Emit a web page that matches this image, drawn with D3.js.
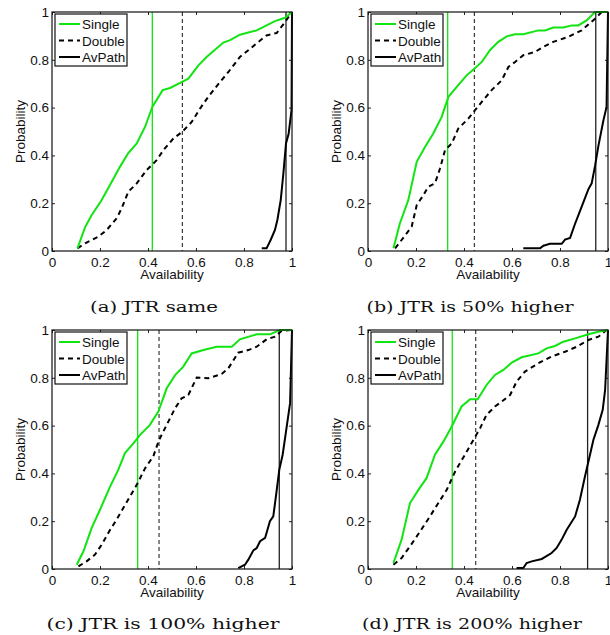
<!DOCTYPE html>
<html lang="en">
<head>
<meta charset="utf-8">
<script src="https://d3js.org/d3.v7.min.js"></script>
<style type="text/css">
body { margin: 0; background: #fff; }
svg text { font-family: "Liberation Sans", Arial, sans-serif; }
svg text.caption { font-family: "DejaVu Serif", "Liberation Serif", serif; }
</style>
</head>
<body>
<script type="text/javascript">

// ---- data: [availability, probability] ----
const ticks = [0, 0.2, 0.4, 0.6, 0.8, 1]
const tickLabels = ["0", "0.2", "0.4", "0.6", "0.8", "1"]
const seriesNames = ["Single", "Double", "AvPath"]
const captions = ["(a) JTR same", "(b) JTR is 50% higher", "(c) JTR is 100% higher", "(d) JTR is 200% higher"]

const aSingle = [[0.106,0.011],[0.138,0.10],[0.165,0.15],[0.207,0.213],[0.249,0.29],[0.283,0.352],[0.318,0.41],[0.353,0.45],[0.388,0.52],[0.418,0.603],[0.461,0.673],[0.492,0.682],[0.54,0.707],[0.568,0.721],[0.61,0.777],[0.644,0.812],[0.714,0.872],[0.742,0.882],[0.783,0.905],[0.853,0.923],[0.894,0.944],[0.929,0.962],[0.971,0.976],[1,1]]
const aDouble = [[0.106,0.011],[0.138,0.032],[0.193,0.06],[0.228,0.088],[0.269,0.136],[0.29,0.178],[0.318,0.248],[0.353,0.283],[0.394,0.338],[0.436,0.38],[0.464,0.422],[0.506,0.471],[0.543,0.499],[0.582,0.54],[0.617,0.596],[0.651,0.645],[0.7,0.707],[0.735,0.749],[0.783,0.812],[0.818,0.84],[0.86,0.875],[0.894,0.902],[0.936,0.912],[0.971,0.958],[1,1]]
const aAvPath = [[0.874,0.011],[0.894,0.011],[0.911,0.046],[0.929,0.088],[0.939,0.13],[0.953,0.213],[0.964,0.324],[0.975,0.45],[0.986,0.49],[0.998,0.589],[1,1]]
const aMarks = [0.418, 0.543, 0.975]

const bSingle = [[0.106,0.011],[0.133,0.116],[0.168,0.213],[0.203,0.373],[0.238,0.436],[0.272,0.492],[0.307,0.561],[0.335,0.645],[0.376,0.694],[0.411,0.735],[0.443,0.763],[0.474,0.791],[0.508,0.84],[0.543,0.875],[0.578,0.898],[0.613,0.907],[0.647,0.907],[0.71,0.923],[0.738,0.923],[0.772,0.935],[0.814,0.935],[0.849,0.944],[0.876,0.944],[0.911,0.965],[0.946,1],[1,1]]
const bDouble = [[0.113,0.011],[0.14,0.046],[0.182,0.102],[0.203,0.192],[0.231,0.234],[0.251,0.269],[0.279,0.283],[0.3,0.345],[0.321,0.422],[0.349,0.45],[0.376,0.512],[0.418,0.554],[0.446,0.589],[0.474,0.624],[0.515,0.673],[0.557,0.714],[0.585,0.77],[0.613,0.791],[0.647,0.819],[0.696,0.833],[0.731,0.854],[0.772,0.875],[0.835,0.896],[0.89,0.923],[0.946,0.972],[0.974,1],[1,1]]
const bAvPath = [[0.647,0.011],[0.717,0.011],[0.731,0.022],[0.758,0.03],[0.807,0.03],[0.821,0.048],[0.842,0.055],[0.862,0.112],[0.89,0.185],[0.918,0.258],[0.932,0.283],[0.946,0.356],[0.96,0.44],[0.981,0.547],[0.994,0.603],[1,1]]
const bMarks = [0.332, 0.443, 0.949]

const cSingle = [[0.103,0.018],[0.131,0.074],[0.165,0.171],[0.2,0.248],[0.242,0.345],[0.276,0.415],[0.304,0.485],[0.339,0.526],[0.367,0.561],[0.408,0.603],[0.443,0.659],[0.478,0.756],[0.513,0.811],[0.547,0.847],[0.582,0.902],[0.631,0.916],[0.686,0.93],[0.749,0.93],[0.783,0.961],[0.853,0.982],[0.908,0.982],[0.95,1],[1,1]]
const cDouble = [[0.11,0.011],[0.144,0.032],[0.179,0.06],[0.207,0.102],[0.242,0.164],[0.269,0.206],[0.297,0.255],[0.325,0.304],[0.353,0.352],[0.388,0.422],[0.422,0.471],[0.446,0.54],[0.478,0.603],[0.513,0.673],[0.54,0.714],[0.568,0.728],[0.603,0.801],[0.651,0.798],[0.707,0.816],[0.735,0.84],[0.776,0.905],[0.818,0.916],[0.853,0.93],[0.894,0.961],[0.929,0.972],[0.957,0.997],[1,1]]
const cAvPath = [[0.776,0.004],[0.804,0.018],[0.818,0.039],[0.839,0.078],[0.853,0.088],[0.867,0.116],[0.888,0.13],[0.908,0.2],[0.922,0.22],[0.933,0.304],[0.947,0.415],[0.961,0.478],[0.975,0.575],[0.992,0.694],[1,1]]
const cMarks = [0.357, 0.446, 0.947]

const dSingle = [[0.106,0.025],[0.14,0.123],[0.175,0.276],[0.21,0.331],[0.244,0.38],[0.279,0.478],[0.314,0.533],[0.349,0.596],[0.39,0.68],[0.425,0.71],[0.457,0.71],[0.494,0.77],[0.529,0.812],[0.564,0.833],[0.599,0.864],[0.64,0.886],[0.71,0.902],[0.744,0.923],[0.779,0.933],[0.814,0.951],[0.863,0.965],[0.918,0.982],[0.96,0.993],[1,1]]
const dDouble = [[0.106,0.018],[0.14,0.046],[0.175,0.095],[0.217,0.157],[0.258,0.22],[0.293,0.276],[0.328,0.331],[0.363,0.408],[0.404,0.478],[0.439,0.54],[0.467,0.589],[0.494,0.645],[0.529,0.68],[0.557,0.7],[0.592,0.728],[0.619,0.784],[0.654,0.826],[0.71,0.861],[0.765,0.889],[0.821,0.909],[0.869,0.93],[0.918,0.958],[0.96,0.972],[0.994,1]]
const dAvPath = [[0.619,0.004],[0.647,0.004],[0.661,0.025],[0.682,0.032],[0.724,0.042],[0.765,0.067],[0.786,0.088],[0.807,0.123],[0.828,0.164],[0.863,0.22],[0.883,0.29],[0.904,0.387],[0.925,0.478],[0.939,0.54],[0.96,0.603],[0.978,0.666],[0.988,0.749],[1,1]]
const dMarks = [0.351, 0.449, 0.915]

// ---- layout ----
const width = 610
const height = 635
const pw = 240, ph = 239
const green = "#11e411"

// cx/cy/cw: caption centre, baseline and width (latex captions are wide)
const panels = [
  {left: 52,  top: 12,  single: aSingle, double: aDouble, avpath: aAvPath, marks: aMarks, caption: captions[0], cx: 154, cy: 312, cw: 128},
  {left: 368, top: 12,  single: bSingle, double: bDouble, avpath: bAvPath, marks: bMarks, caption: captions[1], cx: 470, cy: 312, cw: 207},
  {left: 52,  top: 330, single: cSingle, double: cDouble, avpath: cAvPath, marks: cMarks, caption: captions[2], cx: 163, cy: 629, cw: 233},
  {left: 368, top: 330, single: dSingle, double: dDouble, avpath: dAvPath, marks: dMarks, caption: captions[3], cx: 472, cy: 629, cw: 220}
]

const svg = d3.select("body")
  .append("svg")
  .attr("width", width)
  .attr("height", height)

const x = d3.scaleLinear().domain([0, 1]).range([0, pw])
const y = d3.scaleLinear().domain([0, 1]).range([ph, 0])

const line = d3.line()
  .x(d => x(d[0]))
  .y(d => y(d[1]))

panels.forEach(p => {
  const g = svg.append("g").attr("transform", `translate(${p.left},${p.top})`)

  // inward ticks on all four sides (matlab box style)
  const fmt = (d, i) => tickLabels[i]
  g.append("g").attr("transform", `translate(0,${ph})`)
    .call(d3.axisBottom(x).tickValues(ticks).tickFormat(fmt).tickSizeInner(-3).tickSizeOuter(0).tickPadding(6))
  g.append("g")
    .call(d3.axisLeft(y).tickValues(ticks).tickFormat(fmt).tickSizeInner(-3).tickSizeOuter(0).tickPadding(3))
  g.append("g")
    .call(d3.axisTop(x).tickValues(ticks).tickFormat("").tickSizeInner(-3).tickSizeOuter(0))
  g.append("g").attr("transform", `translate(${pw},0)`)
    .call(d3.axisRight(y).tickValues(ticks).tickFormat("").tickSizeInner(-3).tickSizeOuter(0))

  g.selectAll(".domain").remove()
  g.selectAll(".tick line").attr("stroke", "#222")
  g.selectAll(".tick text").attr("font-size", 13.5).attr("fill", "#111")

  // vertical marker lines
  g.append("line")
    .attr("x1", x(p.marks[0])).attr("x2", x(p.marks[0]))
    .attr("y1", 0).attr("y2", ph)
    .attr("stroke", green).attr("stroke-width", 1.3)
  g.append("line")
    .attr("x1", x(p.marks[1])).attr("x2", x(p.marks[1]))
    .attr("y1", 0).attr("y2", ph)
    .attr("stroke", "#111").attr("stroke-width", 1).attr("stroke-dasharray", "4,3")
  g.append("line")
    .attr("x1", x(p.marks[2])).attr("x2", x(p.marks[2]))
    .attr("y1", 0).attr("y2", ph)
    .attr("stroke", "#222").attr("stroke-width", 1.3)

  // curves
  g.append("path").datum(p.double).attr("d", line)
    .attr("fill", "none").attr("stroke", "#000").attr("stroke-width", 2).attr("stroke-dasharray", "5,4")
  g.append("path").datum(p.avpath).attr("d", line)
    .attr("fill", "none").attr("stroke", "#000").attr("stroke-width", 2)
  g.append("path").datum(p.single).attr("d", line)
    .attr("fill", "none").attr("stroke", green).attr("stroke-width", 2)

  // plot box
  g.append("rect").attr("width", pw).attr("height", ph)
    .attr("fill", "none").attr("stroke", "#111").attr("stroke-width", 1.2)

  // legend
  const lg = g.append("g").attr("transform", "translate(3,2)")
  lg.append("rect").attr("width", 72).attr("height", 52)
    .attr("fill", "#fff").attr("stroke", "#111").attr("stroke-width", 1.2)
  const styles = [
    {stroke: green, dash: null},
    {stroke: "#000", dash: "5,4"},
    {stroke: "#000", dash: null}
  ]
  seriesNames.forEach((name, i) => {
    const yy = 10 + i * 16.5
    lg.append("line").attr("x1", 4).attr("x2", 25).attr("y1", yy).attr("y2", yy)
      .attr("stroke", styles[i].stroke).attr("stroke-width", 2)
      .attr("stroke-dasharray", styles[i].dash)
    lg.append("text").attr("x", 27).attr("y", yy + 5)
      .attr("font-size", 13.5).attr("fill", "#111").text(name)
  })

  // axis labels
  g.append("text").attr("x", pw / 2).attr("y", ph + 28)
    .attr("text-anchor", "middle").attr("font-size", 13.5).attr("fill", "#111")
    .text("Availability")
  g.append("text")
    .attr("transform", `translate(-27,${ph / 2}) rotate(-90)`)
    .attr("text-anchor", "middle").attr("font-size", 13.5).attr("fill", "#111")
    .text("Probability")

  // sub caption
  svg.append("text").attr("class", "caption")
    .attr("x", p.cx - p.cw / 2).attr("y", p.cy)
    .attr("font-size", 15.5).attr("fill", "#111")
    .attr("textLength", p.cw).attr("lengthAdjust", "spacingAndGlyphs")
    .text(p.caption)
})
</script>
</body>
</html>
